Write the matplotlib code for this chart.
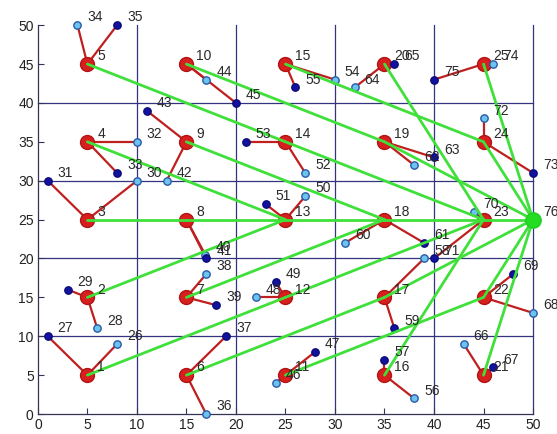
import matplotlib
matplotlib.use("Agg")
import matplotlib.pyplot as plt

plt.rcParams['font.family'] = ['Liberation Sans', 'DejaVu Sans']

# Cluster heads 1..25
ch_id = list(range(1, 26))
ch_x = [5, 5, 5, 5, 5, 15, 15, 15, 15, 15, 25, 25, 25, 25, 25,
        35, 35, 35, 35, 35, 45, 45, 45, 45, 45]
ch_y = [5, 15, 25, 35, 45, 5, 15, 25, 35, 45, 5, 15, 25, 35, 45,
        5, 15, 25, 35, 45, 5, 15, 25, 35, 45]

# Sensor nodes 26..75
sn_id = list(range(26, 76))
sn_x = [8, 1, 6, 3, 10, 1, 10, 8, 4, 8,
        17, 19, 17, 18, 16.9, 17, 13, 11, 17, 20,
        24, 28, 22, 24, 27, 23, 27, 21, 30, 26,
        38, 35, 39, 36, 31, 39, 38, 40, 32, 36,
        43, 46, 50, 48, 44, 40, 45, 50, 46, 40]
sn_y = [9, 10, 11, 16, 30, 30, 35, 31, 50, 50,
        0, 10, 18, 14, 20.5, 20, 30, 39, 43, 40,
        4, 8, 15, 17, 28, 27, 31, 35, 43, 42,
        2, 7, 20, 11, 22, 22, 32, 33, 42, 45,
        9, 6, 13, 18, 26, 20, 38, 31, 45, 43]
# cluster head each sensor reports to
sn_head = [1, 1, 2, 2, 3, 3, 4, 4, 5, 5,
           6, 6, 7, 7, 8, 8, 9, 9, 10, 10,
           11, 11, 12, 12, 13, 13, 14, 14, 15, 15,
           16, 16, 17, 17, 18, 18, 19, 19, 20, 20,
           21, 21, 22, 22, 23, 23, 24, 24, 25, 25]
# sensor type: 'a' light node, 'b' dark node
sn_type = ['a', 'b'] * 25

# Sink node
sink_id = 76
sink_x, sink_y = 50, 25

# Next hop of each cluster head towards the sink
ch_next = [12, 13, 8, 13, 14, 17, 18, 13, 18, 19,
           22, 23, 18, 23, 24, 23, 76, 23, 76, 23,
           76, 76, 76, 76, 76]

pos = {}
for i, x, y in zip(ch_id, ch_x, ch_y):
    pos[i] = (x, y)
for i, x, y in zip(sn_id, sn_x, sn_y):
    pos[i] = (x, y)
pos[sink_id] = (sink_x, sink_y)

fig = plt.figure(figsize=(5.57, 4.34), dpi=100)
ax = fig.add_axes([0.068, 0.046, 0.889, 0.896])

grid_col = '#33337f'
for gx in [10, 20, 30, 40, 50]:
    ax.plot([gx, gx], [0, 50], color=grid_col, lw=0.9, zorder=1, clip_on=False)
for gy in [10, 20, 30, 40]:
    ax.plot([0, 50], [gy, gy], color=grid_col, lw=0.9, zorder=1, clip_on=False)

# member links
for i, h in zip(sn_id, sn_head):
    (x0, y0), (x1, y1) = pos[h], pos[i]
    ax.plot([x0, x1], [y0, y1], color='#c01f1f', lw=1.6, zorder=2,
            solid_capstyle='round')

# sensor nodes
for i, t in zip(sn_id, sn_type):
    x, y = pos[i]
    if t == 'a':
        ax.plot(x, y, 'o', ms=5.3, mfc='#6cc3ee', mec='#2a5aa8', mew=1.0,
                zorder=4, clip_on=False)
    else:
        ax.plot(x, y, 'o', ms=5.3, mfc='#12129e', mec='#0b0b7a', mew=1.0,
                zorder=4, clip_on=False)

# cluster heads
ax.plot(ch_x, ch_y, 'o', ms=10, mfc='#d81f1f', mec='#b01414', mew=1.0,
        ls='none', zorder=3)

# routing links
for h, n in zip(ch_id, ch_next):
    (x0, y0), (x1, y1) = pos[h], pos[n]
    ax.plot([x0, x1], [y0, y1], color='#3fe03a', lw=2.0, zorder=5,
            solid_capstyle='round')

# sink
ax.plot(sink_x, sink_y, 'o', ms=11, mfc='#22dd22', mec='#22cc22',
        zorder=6, clip_on=False)

# node labels
for i in list(ch_id) + list(sn_id) + [sink_id]:
    x, y = pos[i]
    ax.text(x + 1, y + 1, str(i), fontsize=10, color='#2a2a2a',
            ha='left', va='center', zorder=7, clip_on=False)

ax.set_xlim(0, 50)
ax.set_ylim(0, 50)
ax.set_xticks(range(0, 51, 5))
ax.set_yticks(range(0, 51, 5))
ax.tick_params(direction='in', length=4, width=0.8, colors='#333355',
               labelsize=10, labelcolor='#222222', pad=3)
for s in ['top', 'right']:
    ax.spines[s].set_visible(False)
for s in ['left', 'bottom']:
    ax.spines[s].set_color('#333355')
    ax.spines[s].set_linewidth(0.9)

fig.savefig('out.png', dpi=100)
